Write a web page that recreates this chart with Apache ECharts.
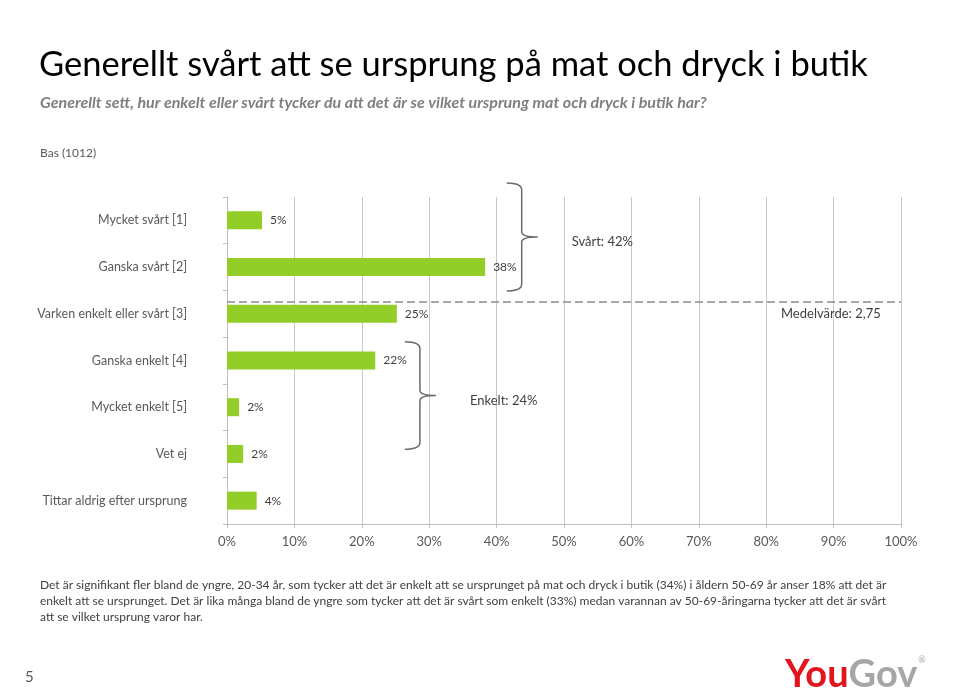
<!DOCTYPE html>
<html>
<head>
<meta charset="utf-8">
<script src="https://cdn.jsdelivr.net/npm/echarts@6/dist/echarts.min.js"></script>
<style>
  html, body { margin: 0; padding: 0; background: #fff; }
  #chart { width: 960px; height: 697px; }
</style>
</head>
<body>
<div id="chart"></div>
<script>
// data
const categories = ['Mycket svårt [1]', 'Ganska svårt [2]', 'Varken enkelt eller svårt [3]', 'Ganska enkelt [4]', 'Mycket enkelt [5]', 'Vet ej', 'Tittar aldrig efter ursprung']
const shares = [5.2, 38.3, 25.2, 22.0, 1.8, 2.4, 4.4]
const shareLabels = ['5%', '38%', '25%', '22%', '2%', '2%', '4%']
const meanScore = 2.75
const meanLabel = 'Medelvärde: 2,75'
const groupLabels = ['Svårt: 42%', 'Enkelt: 24%']

// brace placement (x in %, y in category units), kept apart from the data
const braceLayout = [
  { x: 41.5, top: -0.8, bottom: 1.51 },
  { x: 26.4, top: 2.6, bottom: 4.9 }
]

const FONT = 'Lato, "Noto Sans", sans-serif'
const GREY = '#595959'

const chart = echarts.init(document.getElementById('chart'))

const braceData = groupLabels.map((l, i) => [braceLayout[i].x, braceLayout[i].top, braceLayout[i].bottom, i])

chart.setOption({
  animation: false,
  textStyle: { fontFamily: FONT },
  grid: { left: 227, right: 59, top: 197, bottom: 173, containLabel: false },
  xAxis: {
    type: 'value',
    min: 0,
    max: 100,
    interval: 10,
    axisLine: { show: true, onZero: false, lineStyle: { color: '#bfbfbf' } },
    axisTick: { show: true, length: 4, lineStyle: { color: '#bfbfbf' } },
    splitLine: { show: true, lineStyle: { color: '#c8c8c8', width: 1 } },
    axisLabel: { formatter: '{value}%', color: GREY, fontSize: 13, margin: 11, fontFamily: FONT }
  },
  yAxis: [
    {
      type: 'category',
      inverse: true,
      data: categories,
      axisLine: { show: true, lineStyle: { color: '#bfbfbf' } },
      axisTick: { show: true, length: 4, lineStyle: { color: '#bfbfbf' } },
      axisLabel: { color: GREY, fontSize: 12.5, margin: 40, fontFamily: FONT }
    },
    {
      type: 'value',
      inverse: true,
      min: -0.5,
      max: categories.length - 0.5,
      show: false
    }
  ],
  series: [
    {
      type: 'bar',
      data: shares,
      barWidth: 18,
      itemStyle: { color: '#92CD28' },
      label: {
        show: true,
        position: 'right',
        distance: 8,
        color: '#404040',
        fontSize: 12,
        fontFamily: FONT,
        formatter: p => shareLabels[p.dataIndex]
      }
    },
    {
      // mean score line, placed on the 1..5 scale of the first five categories
      type: 'line',
      yAxisIndex: 1,
      data: [[0, meanScore - 1], [100, meanScore - 1]],
      symbol: 'circle',
      symbolSize: 0,
      showSymbol: true,
      lineStyle: { color: '#8c8c8c', width: 1.5, type: [8, 4] },
      label: {
        show: true,
        position: [-120, 5],
        color: '#404040',
        fontSize: 13,
        fontFamily: FONT,
        formatter: p => p.dataIndex === 1 ? meanLabel : ''
      },
      labelLayout: { hideOverlap: false },
      silent: true
    },
    {
      type: 'custom',
      yAxisIndex: 1,
      clip: false,
      data: braceData,
      renderItem: (params, api) => {
        const top = api.coord([api.value(0), api.value(1)])
        const bot = api.coord([api.value(0), api.value(2)])
        const x = top[0]
        const t = top[1]
        const b = bot[1]
        const m = (t + b) / 2
        const path = `M${x},${t} Q${x + 15},${t} ${x + 15},${t + 7} L${x + 15},${m - 5} Q${x + 15},${m} ${x + 31},${m} Q${x + 15},${m} ${x + 15},${m + 5} L${x + 15},${b - 7} Q${x + 15},${b} ${x},${b}`
        return {
          type: 'group',
          children: [
            { type: 'path', shape: { pathData: path }, style: { stroke: '#6b6b6b', lineWidth: 1.5, fill: 'none' } },
            {
              type: 'text',
              style: {
                text: groupLabels[api.value(3)],
                x: x + 65,
                y: m + 5,
                fill: '#404040',
                fontSize: 13,
                fontFamily: FONT,
                verticalAlign: 'middle',
                align: 'left'
              }
            }
          ]
        }
      }
    }
  ],
  graphic: [
    { type: 'text', left: 39, top: 47, style: { text: 'Generellt svårt att se ursprung på mat och dryck i butik', fill: '#000', fontSize: 34.5, fontFamily: FONT } },
    { type: 'text', left: 40, top: 95, style: { text: 'Generellt sett, hur enkelt eller svårt tycker du att det är se vilket ursprung mat och dryck i butik har?', fill: '#7f7f7f', fontSize: 16, fontWeight: 'bold', fontStyle: 'italic', fontFamily: FONT } },
    { type: 'text', left: 40, top: 147, style: { text: 'Bas (1012)', fill: GREY, fontSize: 12, fontFamily: FONT } },
    {
      type: 'text', left: 40, top: 577,
      style: {
        text: 'Det är signifikant fler bland de yngre, 20-34 år, som tycker att det är enkelt att se ursprunget på mat och dryck i butik (34%) i åldern 50-69 år anser 18% att det är\nenkelt att se ursprunget. Det är lika många bland de yngre som tycker att det är svårt som enkelt (33%) medan varannan av 50-69-åringarna tycker att det är svårt\natt se vilket ursprung varor har.',
        fill: '#404040', fontSize: 12, lineHeight: 16, fontFamily: FONT
      }
    },
    { type: 'text', left: 25, top: 670, style: { text: '5', fill: GREY, fontSize: 15, fontFamily: FONT } },
    {
      type: 'text', left: 785, top: 656,
      style: {
        text: '{y|You}{g|Gov}{r|®}',
        rich: {
          y: { fill: '#E2141E', fontSize: 38, fontWeight: 'bold', fontFamily: FONT },
          g: { fill: '#a6a6a6', fontSize: 38, fontWeight: 'bold', fontFamily: FONT },
          r: { fill: '#a6a6a6', fontSize: 9, fontFamily: FONT, verticalAlign: 'top', padding: [0, 0, 24, 1] }
        }
      }
    }
  ]
})
</script>
</body>
</html>
